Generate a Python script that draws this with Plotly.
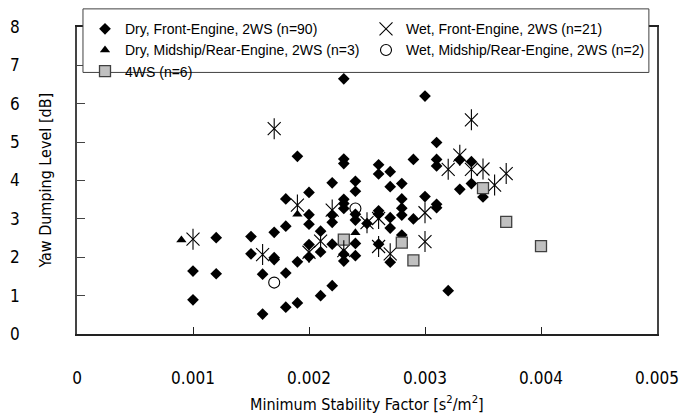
import plotly.graph_objects as go

# ---- data ----
dry_front_x = [0.0010, 0.0010,
               0.0012, 0.0012,
               0.0015, 0.0015,
               0.0016, 0.0016,
               0.0017, 0.0017, 0.0017,
               0.0018, 0.0018, 0.0018, 0.0018,
               0.0019, 0.0019, 0.0019,
               0.0020, 0.0020, 0.0020, 0.0020, 0.0020,
               0.0021, 0.0021, 0.0021,
               0.0022, 0.0022, 0.0022, 0.0022, 0.0022,
               0.0023, 0.0023, 0.0023, 0.0023, 0.0023, 0.0023, 0.0023, 0.0023,
               0.0024, 0.0024, 0.0024, 0.0024, 0.0024, 0.0024,
               0.0025,
               0.0026, 0.0026, 0.0026, 0.0026, 0.0026,
               0.0027, 0.0027, 0.0027, 0.0027, 0.0027,
               0.0028, 0.0028, 0.0028, 0.0028, 0.0028,
               0.0029, 0.0029,
               0.0030, 0.0030,
               0.0031, 0.0031, 0.0031, 0.0031, 0.0031,
               0.0032,
               0.0033, 0.0033,
               0.0034, 0.0034,
               0.0035]
dry_front_y = [1.64, 0.89,
               2.51, 1.57,
               2.54, 2.09,
               1.56, 0.52,
               2.65, 1.99, 1.94,
               3.52, 2.81, 1.59, 0.70,
               4.63, 1.88, 0.81,
               3.69, 3.11, 2.86, 2.33, 2.01,
               2.68, 2.14, 1.00,
               3.94, 3.10, 2.91, 2.34, 1.26,
               6.65, 4.56, 4.44, 3.51, 3.40, 3.27, 2.08, 1.90,
               3.98, 3.72, 3.12, 2.97, 2.36, 2.04,
               2.88,
               4.41, 4.17, 3.21, 3.12, 2.34,
               4.23, 3.84, 3.03, 2.76, 1.87,
               3.92, 3.52, 3.28, 3.10, 2.58,
               4.55, 3.00,
               6.20, 3.58,
               4.99, 4.55, 4.38, 3.38, 3.29,
               1.13,
               4.54, 3.77,
               4.49, 3.92,
               3.57]

wet_front_x = [0.0010, 0.0016, 0.0017, 0.0019, 0.0020, 0.0021, 0.0022,
               0.0023, 0.0025, 0.0026, 0.0026, 0.0027, 0.0030, 0.0030,
               0.0032, 0.0033, 0.0034, 0.0034, 0.0035, 0.0036, 0.0037]
wet_front_y = [2.47, 2.07, 5.35, 3.36, 2.13, 2.42, 3.23,
               2.17, 2.90, 3.01, 2.28, 2.09, 3.16, 2.41,
               4.29, 4.66, 5.58, 4.29, 4.30, 3.88, 4.18]

dry_mid_x = [0.0009, 0.0019, 0.0024]
dry_mid_y = [2.45, 3.12, 2.64]

wet_mid_x = [0.0017, 0.0024]
wet_mid_y = [1.34, 3.27]

aws_x = [0.0023, 0.0028, 0.0029, 0.0035, 0.0037, 0.0040]
aws_y = [2.46, 2.38, 1.92, 3.80, 2.92, 2.29]

x_tick_vals = [0, 0.001, 0.002, 0.003, 0.004, 0.005]
x_tick_text = ["0", "0.001", "0.002", "0.003", "0.004", "0.005"]
y_tick_vals = [0, 1, 2, 3, 4, 5, 6, 7, 8]

FONT = "DejaVu Sans Condensed, Liberation Sans, sans-serif"
LFONT = "Liberation Sans, Arial, sans-serif"

fig = go.Figure()

fig.add_trace(go.Scatter(
    x=dry_front_x, y=dry_front_y, mode="markers",
    name="Dry, Front-Engine, 2WS (n=90)",
    marker=dict(symbol="diamond", size=9, color="black"),
))
fig.add_trace(go.Scatter(
    x=wet_front_x, y=wet_front_y, mode="markers",
    name="Wet, Front-Engine, 2WS (n=21)",
    marker=dict(symbol="x-thin-open", size=13, color="black",
                line=dict(color="black", width=1.1)),
))
fig.add_trace(go.Scatter(
    x=dry_mid_x, y=dry_mid_y, mode="markers",
    name="Dry, Midship/Rear-Engine, 2WS (n=3)",
    marker=dict(symbol="triangle-up", size=9, color="black"),
))
fig.add_trace(go.Scatter(
    x=wet_mid_x, y=wet_mid_y, mode="markers",
    name="Wet, Midship/Rear-Engine, 2WS (n=2)",
    marker=dict(symbol="circle-open", size=11, color="black",
                line=dict(color="black", width=1.1)),
))
fig.add_trace(go.Scatter(
    x=aws_x, y=aws_y, mode="markers",
    name="4WS (n=6)",
    marker=dict(symbol="square", size=11, color="#c0c0c0",
                line=dict(color="#404040", width=1.3)),
))
# vertical stroke of the wet asterisk markers (same data, no legend entry)
fig.add_trace(go.Scatter(
    x=wet_front_x, y=wet_front_y, mode="markers", showlegend=False,
    hoverinfo="skip",
    marker=dict(symbol="line-ns-open", size=15, color="black",
                line=dict(color="black", width=1.1)),
))

# the page body has an 8px default margin, so the figure is 8px smaller
fig.update_layout(
    width=688, height=408,
    margin=dict(l=69, r=39, t=19, b=82, autoexpand=False),
    paper_bgcolor="white", plot_bgcolor="white",
    font=dict(family=FONT, size=16, color="black"),
    showlegend=True,
    legend=dict(
        orientation="h",
        x=0.0138, y=1.045, xanchor="left", yanchor="top",
        entrywidth=236, entrywidthmode="pixels",
        itemwidth=30,
        bgcolor="rgba(0,0,0,0)", borderwidth=0,
        font=dict(family=LFONT, size=14, color="black"),
        traceorder="normal",
    ),
    shapes=[
        dict(type="rect", xref="paper", yref="paper", layer="above",
             x0=0.0103, x1=0.986, y0=0.852, y1=1.059,
             fillcolor="white", line=dict(color="#404040", width=1)),
    ],
    xaxis=dict(
        range=[0, 0.005], tickvals=x_tick_vals, ticktext=x_tick_text,
        automargin=False,
        showgrid=False, zeroline=False,
        showline=True, linecolor="#222", linewidth=1.5, mirror=True,
        ticks="inside", ticklen=7, tickcolor="#222", tickwidth=1,
        ticklabelstandoff=28,
        tickfont=dict(size=17),
    ),
    yaxis=dict(
        range=[0, 8], tickvals=y_tick_vals,
        automargin=False,
        showgrid=False, zeroline=False,
        showline=True, linecolor="#444", linewidth=1.5, mirror=True,
        ticks="inside", ticklen=8, tickcolor="#444", tickwidth=1,
        ticklabelstandoff=52,
        tickfont=dict(size=17),
    ),
    annotations=[
        dict(text="Yaw Dumping Level [dB]", xref="paper", yref="paper",
             x=-0.055, y=0.5, xanchor="center", yanchor="middle",
             textangle=-90, showarrow=False, font=dict(size=16)),
        dict(text="Minimum Stability Factor [s<sup>2</sup>/m<sup>2</sup>]",
             xref="paper", yref="paper", x=0.5, y=-0.226,
             xanchor="center", yanchor="middle", showarrow=False,
             font=dict(size=16)),
    ],
)

fig.write_html("out.html")
